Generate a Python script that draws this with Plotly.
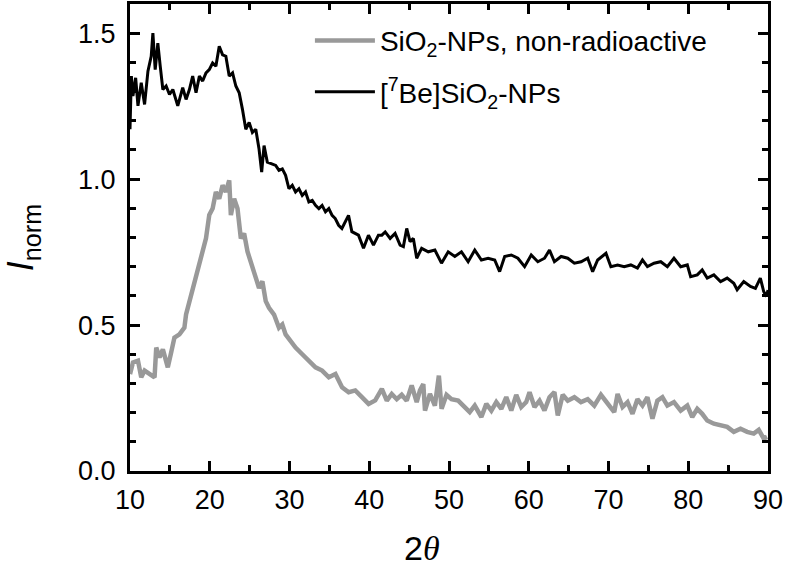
import plotly.graph_objects as go

# [7Be]SiO2-NPs (black)
be_x = [10.0, 10.17, 10.37, 10.71, 11.0, 11.41, 11.83, 12.25, 12.66, 12.87, 13.16, 13.49, 13.79, 14.12,
        14.53, 14.95, 15.37, 15.99, 16.61, 17.03, 17.45, 17.86, 18.28, 18.70, 19.11, 19.53, 19.94, 20.36,
        20.77, 21.19, 21.61, 22.02, 22.44, 22.86, 23.27, 23.69, 24.10, 24.52, 24.94, 25.35, 25.77, 26.18,
        26.51, 26.81, 27.22, 27.85, 28.27, 28.68, 29.10, 29.51, 29.93, 30.35, 30.76, 31.18, 31.60, 32.01,
        32.43, 32.85, 33.26, 33.68, 34.09, 34.51, 34.93, 35.34, 35.74, 36.16, 36.57, 37.40, 37.82, 38.65,
        39.28, 39.90, 40.53, 41.15, 41.58, 42.0, 42.62, 43.24, 43.87, 44.28, 44.7, 45.12, 45.53, 45.95,
        46.57, 47.4, 48.23, 49.06, 49.9, 50.73, 51.56, 52.4, 53.23, 54.06, 54.9, 55.73, 56.35, 56.98,
        57.81, 58.64, 59.48, 60.31, 61.14, 61.98, 62.6, 63.22, 64.06, 64.89, 65.72, 66.56, 67.39, 68.01,
        68.64, 69.68, 70.3, 71.14, 71.97, 72.8, 73.63, 74.26, 74.88, 75.71, 76.55, 77.38, 78.21, 79.05,
        79.88, 80.3, 81.13, 81.75, 82.38, 83.21, 84.05, 84.88, 85.71, 86.13, 86.96, 87.8, 88.42, 89.04,
        89.46, 89.8, 90.0]
be_y = [1.171, 1.353, 1.285, 1.347, 1.251, 1.330, 1.256, 1.370, 1.421, 1.500, 1.375, 1.466, 1.387, 1.307,
        1.319, 1.290, 1.307, 1.251, 1.313, 1.273, 1.307, 1.353, 1.296, 1.353, 1.336, 1.364, 1.375, 1.398,
        1.387, 1.455, 1.426, 1.421, 1.353, 1.364, 1.319, 1.296, 1.239, 1.171, 1.194, 1.160, 1.171, 1.103,
        1.024, 1.115, 1.058, 1.052, 1.047, 1.030, 1.035, 1.013, 0.967, 0.979, 0.956, 0.967, 0.944, 0.956,
        0.922, 0.927, 0.910, 0.899, 0.910, 0.888, 0.899, 0.876, 0.865, 0.842, 0.831, 0.876, 0.820, 0.808,
        0.763, 0.808, 0.774, 0.808, 0.808, 0.819, 0.797, 0.814, 0.774, 0.769, 0.831, 0.786, 0.797, 0.729,
        0.763, 0.751, 0.757, 0.712, 0.751, 0.735, 0.751, 0.717, 0.757, 0.723, 0.729, 0.723, 0.683, 0.735,
        0.740, 0.729, 0.700, 0.740, 0.717, 0.729, 0.757, 0.717, 0.735, 0.729, 0.712, 0.717, 0.729, 0.683,
        0.723, 0.746, 0.700, 0.706, 0.700, 0.706, 0.695, 0.723, 0.700, 0.712, 0.717, 0.700, 0.729, 0.700,
        0.706, 0.666, 0.672, 0.689, 0.661, 0.672, 0.649, 0.661, 0.643, 0.621, 0.649, 0.632, 0.626, 0.661,
        0.615, 0.598, 0.620]

# SiO2-NPs, non-radioactive (gray)
si_x = [10.0, 10.37, 11.0, 11.41, 11.83, 12.45, 13.08, 13.29, 13.70, 14.12, 14.74, 15.16, 15.57, 16.2,
        16.82, 17.03, 17.45, 17.86, 18.28, 18.7, 19.11, 19.53, 19.94, 20.36, 20.77, 21.19, 21.61, 22.02,
        22.44, 22.65, 23.06, 23.48, 23.9, 24.31, 24.73, 25.15, 25.56, 26.18, 26.6, 27.02, 27.43, 28.06,
        28.68, 29.10, 29.51, 30.14, 30.76, 31.6, 32.43, 33.26, 34.09, 34.93, 35.76, 36.59, 37.42, 38.25,
        39.08, 39.92, 40.75, 41.58, 42.2, 42.82, 43.45, 44.07, 44.7, 45.32, 45.95, 46.36, 46.78, 46.99,
        47.61, 48.23, 48.73, 49.07, 49.69, 50.31, 51.15, 51.98, 52.6, 53.23, 54.06, 54.68, 55.31, 55.93,
        56.56, 57.18, 57.81, 58.43, 59.06, 59.68, 60.1, 60.72, 61.35, 61.97, 62.6, 63.22, 63.64, 64.26,
        64.89, 65.72, 66.55, 67.39, 68.22, 69.05, 69.88, 70.72, 71.14, 71.76, 72.39, 73.01, 73.63, 74.26,
        74.88, 75.51, 76.13, 76.76, 77.38, 78.21, 79.05, 79.88, 80.5, 81.13, 81.75, 82.38, 83.21, 84.05,
        84.88, 85.71, 86.55, 87.38, 88.21, 88.84, 89.46, 89.88]
si_y = [0.332, 0.372, 0.378, 0.321, 0.344, 0.332, 0.321, 0.423, 0.389, 0.417, 0.355, 0.406, 0.457, 0.468,
        0.491, 0.536, 0.582, 0.616, 0.672, 0.718, 0.752, 0.797, 0.877, 0.899, 0.956, 0.933, 0.979, 0.956,
        0.996, 0.877, 0.933, 0.899, 0.797, 0.814, 0.752, 0.718, 0.684, 0.627, 0.650, 0.582, 0.559, 0.536,
        0.491, 0.502, 0.468, 0.446, 0.423, 0.400, 0.378, 0.355, 0.344, 0.321, 0.332, 0.287, 0.270, 0.276,
        0.253, 0.230, 0.242, 0.281, 0.241, 0.264, 0.246, 0.261, 0.241, 0.293, 0.236, 0.276, 0.298, 0.207,
        0.264, 0.224, 0.327, 0.213, 0.261, 0.246, 0.241, 0.219, 0.202, 0.224, 0.185, 0.230, 0.207, 0.236,
        0.213, 0.253, 0.207, 0.261, 0.219, 0.236, 0.270, 0.219, 0.241, 0.207, 0.253, 0.270, 0.190, 0.261,
        0.241, 0.253, 0.236, 0.246, 0.224, 0.261, 0.230, 0.202, 0.264, 0.219, 0.236, 0.196, 0.246, 0.224,
        0.253, 0.179, 0.241, 0.253, 0.224, 0.236, 0.207, 0.224, 0.185, 0.213, 0.196, 0.173, 0.162, 0.156,
        0.151, 0.134, 0.145, 0.134, 0.128, 0.141, 0.111, 0.117]

x_ticks = [10, 20, 30, 40, 50, 60, 70, 80, 90]
y_ticks = [0.0, 0.5, 1.0, 1.5]

FONT = "Liberation Sans, Arial, sans-serif"

fig = go.Figure()
fig.add_trace(go.Scatter(x=si_x, y=si_y, mode="lines",
                         line=dict(color="#999999", width=4.5),
                         name="SiO<sub>2</sub>-NPs, non-radioactive", legendgroup="si"))
fig.add_trace(go.Scatter(x=be_x, y=be_y, mode="lines",
                         line=dict(color="#000000", width=3),
                         name="[<sup>7</sup>Be]SiO<sub>2</sub>-NPs", legendgroup="be"))

axis_common = dict(showline=True, linecolor="black", linewidth=3, mirror="ticks",
                   ticks="inside", tickcolor="black", tickwidth=2.5, ticklen=10,
                   showgrid=False, zeroline=False,
                   tickfont=dict(family=FONT, size=27, color="black"))

fig.update_xaxes(range=[10, 90], tickvals=x_ticks, ticktext=[str(v) for v in x_ticks],
                 minor=dict(ticks="inside", dtick=5, tick0=10, ticklen=6, tickwidth=2.5, tickcolor="black"),
                 ticklabelstandoff=3,
                 **axis_common)
fig.update_yaxes(range=[0, 1.6], tickvals=y_ticks, ticktext=["%.1f" % v for v in y_ticks],
                 minor=dict(ticks="inside", dtick=0.1, tick0=0, ticklen=6, tickwidth=2.5, tickcolor="black"),
                 ticklabelstandoff=6,
                 title=dict(text="<i>I</i><sub>norm</sub>",
                            font=dict(family=FONT, size=36, color="black"), standoff=52),
                 **axis_common)

fig.update_layout(
    width=787, height=566,
    margin=dict(l=127, r=19, t=1, b=95),
    paper_bgcolor="white", plot_bgcolor="white",
    font=dict(family=FONT, color="black"),
    showlegend=True,
    legend=dict(x=0.282, y=0.975, xanchor="left", yanchor="top",
                font=dict(family=FONT, size=28, color="black"),
                bgcolor="rgba(0,0,0,0)", itemwidth=60, tracegroupgap=12),
    annotations=[dict(text="2<span style=\"font-family:Liberation Serif\"><i>θ</i></span>",
                      xref="paper", yref="paper", x=0.457, y=-0.165,
                      xanchor="center", yanchor="middle", showarrow=False,
                      font=dict(family=FONT, size=34, color="black"))],
)

fig.write_html("out.html", config={"displayModeBar": False},
               post_script="document.body.style.margin='0';")
